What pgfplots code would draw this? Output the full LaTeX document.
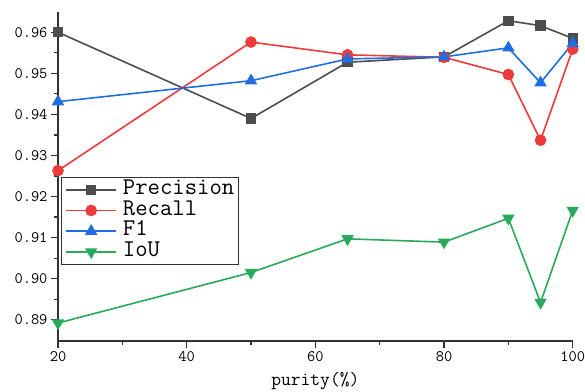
\documentclass[border=0pt]{standalone}
\usepackage{fontspec}
\setmainfont{Latin Modern Mono}
\usepackage{pgfplots}
\pgfplotsset{compat=1.18}
\definecolor{cP}{RGB}{77,77,77}
\definecolor{cR}{RGB}{240,58,58}
\definecolor{cF}{RGB}{30,110,225}
\definecolor{cI}{RGB}{40,170,90}
\begin{document}
\begin{tikzpicture}
\begin{axis}[name=ax, scale only axis, width=514.7pt, height=329pt,
 xmin=20, xmax=100, ymin=0.8849, ymax=0.965,
 axis x line*=bottom, axis y line*=left,
 axis line style={line width=1.6pt, color=black!80, -},
 xtick={20,40,60,80,100},
 ytick={0.89,0.90,0.91,0.92,0.93,0.94,0.95,0.96},
 minor tick num=1,
 tick align=outside, major tick length=7pt, minor tick length=4pt,
 tick style={line width=1.2pt, color=black!80},
 ticklabel style={font=\fontsize{16}{16}\selectfont},
 yticklabel style={/pgf/number format/fixed,/pgf/number format/fixed zerofill,/pgf/number format/precision=2},
 /pgf/number format/assume math mode=true,
 scaled y ticks=false,
 xlabel={purity(\%)}, xlabel style={font=\fontsize{19}{19}\selectfont, yshift=-4pt},
 legend style={at={(0.0058,0.4974)}, anchor=north west, font=\fontsize{24}{21}\selectfont,
   draw=black!80, line width=0.8pt, inner xsep=4pt, inner ysep=2pt,
   nodes={text height=14.5pt, text depth=5pt, inner ysep=0.6pt, inner xsep=0pt},
   /tikz/every odd column/.append style={column sep=6pt}},
 legend cell align=left,
 legend image code/.code={\draw[mark repeat=2,mark phase=2,#1] plot coordinates {(-4pt,0pt) (21pt,0pt) (46pt,0pt)};},
]
\addplot[color=cP, line width=1.6pt, mark=square*, mark size=4.4pt, mark options={fill=cP}] coordinates {
 (20,0.9600) (50,0.9390) (65,0.9527) (80,0.9540) (90,0.9628) (95,0.9616) (100,0.9585)};
\addlegendentry{Precision}
\addplot[color=cR, line width=1.6pt, mark=*, mark size=5pt, mark options={fill=cR}] coordinates {
 (20,0.9263) (50,0.9576) (65,0.9545) (80,0.9539) (90,0.9497) (95,0.9337) (100,0.9559)};
\addlegendentry{Recall}
\addplot[color=cF, line width=1.6pt, mark=triangle*, mark size=5.6pt, mark options={fill=cF}] coordinates {
 (20,0.9431) (50,0.9482) (65,0.9535) (80,0.9540) (90,0.9562) (95,0.9477) (100,0.9573)};
\addlegendentry{F1}
\addplot[color=cI, line width=1.6pt, mark=triangle*, mark size=5.6pt, mark options={fill=cI, rotate=180}] coordinates {
 (20,0.8892) (50,0.9015) (65,0.9097) (80,0.9089) (90,0.9147) (95,0.8942) (100,0.9166)};
\addlegendentry{IoU}
\end{axis}
\pgfresetboundingbox
\path ([xshift=-58pt,yshift=-51pt]ax.south west) rectangle ([xshift=12.3pt,yshift=11.7pt]ax.north east);
\end{tikzpicture}
\end{document}
